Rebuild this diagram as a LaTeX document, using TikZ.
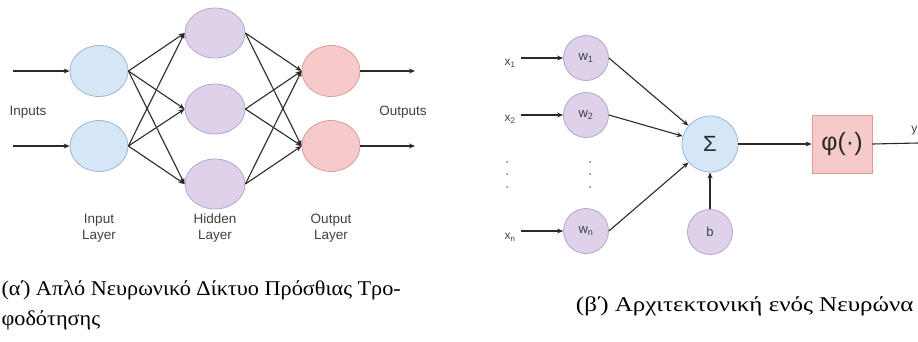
\documentclass[tikz,border=0pt]{standalone}
\usepackage{fontspec}
\setmainfont{Liberation Serif}
\newfontfamily\labfont{Liberation Sans}
\newfontfamily\captafont[FakeStretch=1.06]{Liberation Serif}
\newfontfamily\captbfont[FakeStretch=1.19]{Liberation Serif}
\usetikzlibrary{arrows.meta,shapes.geometric}
\definecolor{inblue}{HTML}{D5E6F7}
\definecolor{inbord}{HTML}{9DB6D3}
\definecolor{hidfill}{HTML}{DDD2EA}
\definecolor{hidbord}{HTML}{B5A5CE}
\definecolor{outfill}{HTML}{F6CACA}
\definecolor{outbord}{HTML}{DB9C9C}
\definecolor{edgecol}{HTML}{2A2A2A}
\definecolor{txtcol}{HTML}{404040}
\tikzset{
  neuron/.style={ellipse, draw, line width=0.8pt, minimum width=58pt, minimum height=51pt, inner sep=0pt},
  innode/.style={neuron, fill=inblue, draw=inbord},
  hidnode/.style={neuron, fill=hidfill, draw=hidbord, minimum width=60pt, minimum height=50pt},
  outnode/.style={neuron, fill=outfill, draw=outbord},
  wnode/.style={circle, draw=hidbord, fill=hidfill, line width=0.8pt, minimum size=45pt, inner sep=0pt, font=\labfont\fontsize{13}{14}\selectfont, text=txtcol},
  sumnode/.style={circle, draw=inbord, fill=inblue, line width=0.8pt, minimum size=56pt, inner sep=0pt, font=\labfont\fontsize{22}{24}\selectfont, text=edgecol},
  phinode/.style={rectangle, draw=outbord, fill=outfill, line width=0.8pt, minimum width=60pt, minimum height=58pt, inner sep=0pt, font=\labfont\fontsize{25}{28}\selectfont, text=edgecol},
  conn/.style={draw=edgecol, line width=1.1pt, -{Stealth[length=6pt,width=5pt]}},
  lab/.style={font=\labfont\fontsize{13.5}{16}\selectfont, text=txtcol, align=center},
  xlab/.style={font=\labfont\fontsize{12}{13}\selectfont, text=txtcol},
  capta/.style={font=\captafont\fontsize{21}{30}\selectfont, align=left, anchor=west},
  captb/.style={font=\captbfont\fontsize{21}{30}\selectfont, anchor=east}
}
\begin{document}
\begin{tikzpicture}[x=1pt,y=-1pt]
\useasboundingbox (0,0) rectangle (918,341);
% ---- left network ----
\node[innode] (i1) at (99,71) {};
\node[innode] (i2) at (99,146) {};
\node[hidnode] (h1) at (215,33) {};
\node[hidnode] (h2) at (215,109) {};
\node[hidnode] (h3) at (215,184) {};
\node[outnode] (o1) at (331,71) {};
\node[outnode] (o2) at (331,146) {};
\coordinate (a1) at (13,71);
\coordinate (a2) at (13,146);
\coordinate (b1) at (415,71);
\coordinate (b2) at (415,146);
\draw[conn] (a1) -- (i1.west);
\draw[conn] (a2) -- (i2.west);
\draw[conn] (o1.east) -- (b1);
\draw[conn] (o2.east) -- (b2);
\foreach \i in {i1,i2}{\foreach \h in {h1,h2,h3}{\draw[conn] (\i.east) -- (\h.west);}}
\foreach \h in {h1,h2,h3}{\foreach \o in {o1,o2}{\draw[conn] (\h.east) -- (\o.west);}}
\node[lab] (tin) at (28,112) {Inputs};
\node[lab] (tout) at (403,112) {Outputs};
\node[lab] (lin) at (99,228) {Input\\Layer};
\node[lab] (lhid) at (215,228) {Hidden\\Layer};
\node[lab] (lout) at (331,228) {Output\\Layer};
% ---- right neuron ----
\node[wnode] (w1) at (586,58) {w\textsubscript{1}};
\node[wnode] (w2) at (586,115) {w\textsubscript{2}};
\node[wnode] (wn) at (586,231) {w\textsubscript{n}};
\node[sumnode] (sig) at (710,144) {Σ};
\node[wnode] (bb) at (710,232) {b};
\node[phinode] (phi) at (842,144) {φ(·)};
\node[xlab, anchor=east] (x1) at (519,63) {x\textsubscript{1}};
\node[xlab, anchor=east] (x2) at (519,119) {x\textsubscript{2}};
\node[xlab, anchor=east] (xn) at (519,237) {x\textsubscript{n}};
\draw[conn] (x1.east) ++(2,-5) coordinate (x1s) -- (w1.west);
\draw[conn] (x2.east) ++(2,-4) coordinate (x2s) -- (w2.west);
\draw[conn] (xn.east) ++(2,-6) coordinate (xns) -- (wn.west);
\draw[conn] (w1.east) -- (sig);
\draw[conn] (w2.east) -- (sig);
\draw[conn] (wn.east) -- (sig);
\draw[conn] (bb) -- (sig);
\draw[conn] (sig) -- (phi);
\coordinate (yend) at (918,143);
\draw[draw=edgecol, line width=1.1pt] (phi.east) -- (yend);
\node[xlab, anchor=east, inner sep=0.5pt] (ylab) at (918,131) {y};
\foreach \yy in {162,174,187}{
  \fill[txtcol!70] (507,\yy) circle (1);
  \fill[txtcol!70] (590,\yy) circle (1);
}
% ---- captions ----
\node[capta] (ca) at (-2,305) {(α\kern-2pt΄\kern-3pt) Απλό Νευρωνικό Δίκτυο Πρόσθιας Τρο-\\φοδότησης};
\node[captb] (cb) at (917,306) {(β\kern-2pt΄\kern-3pt) Αρχιτεκτονική ενός Νευρώνα};
\end{tikzpicture}
\end{document}
